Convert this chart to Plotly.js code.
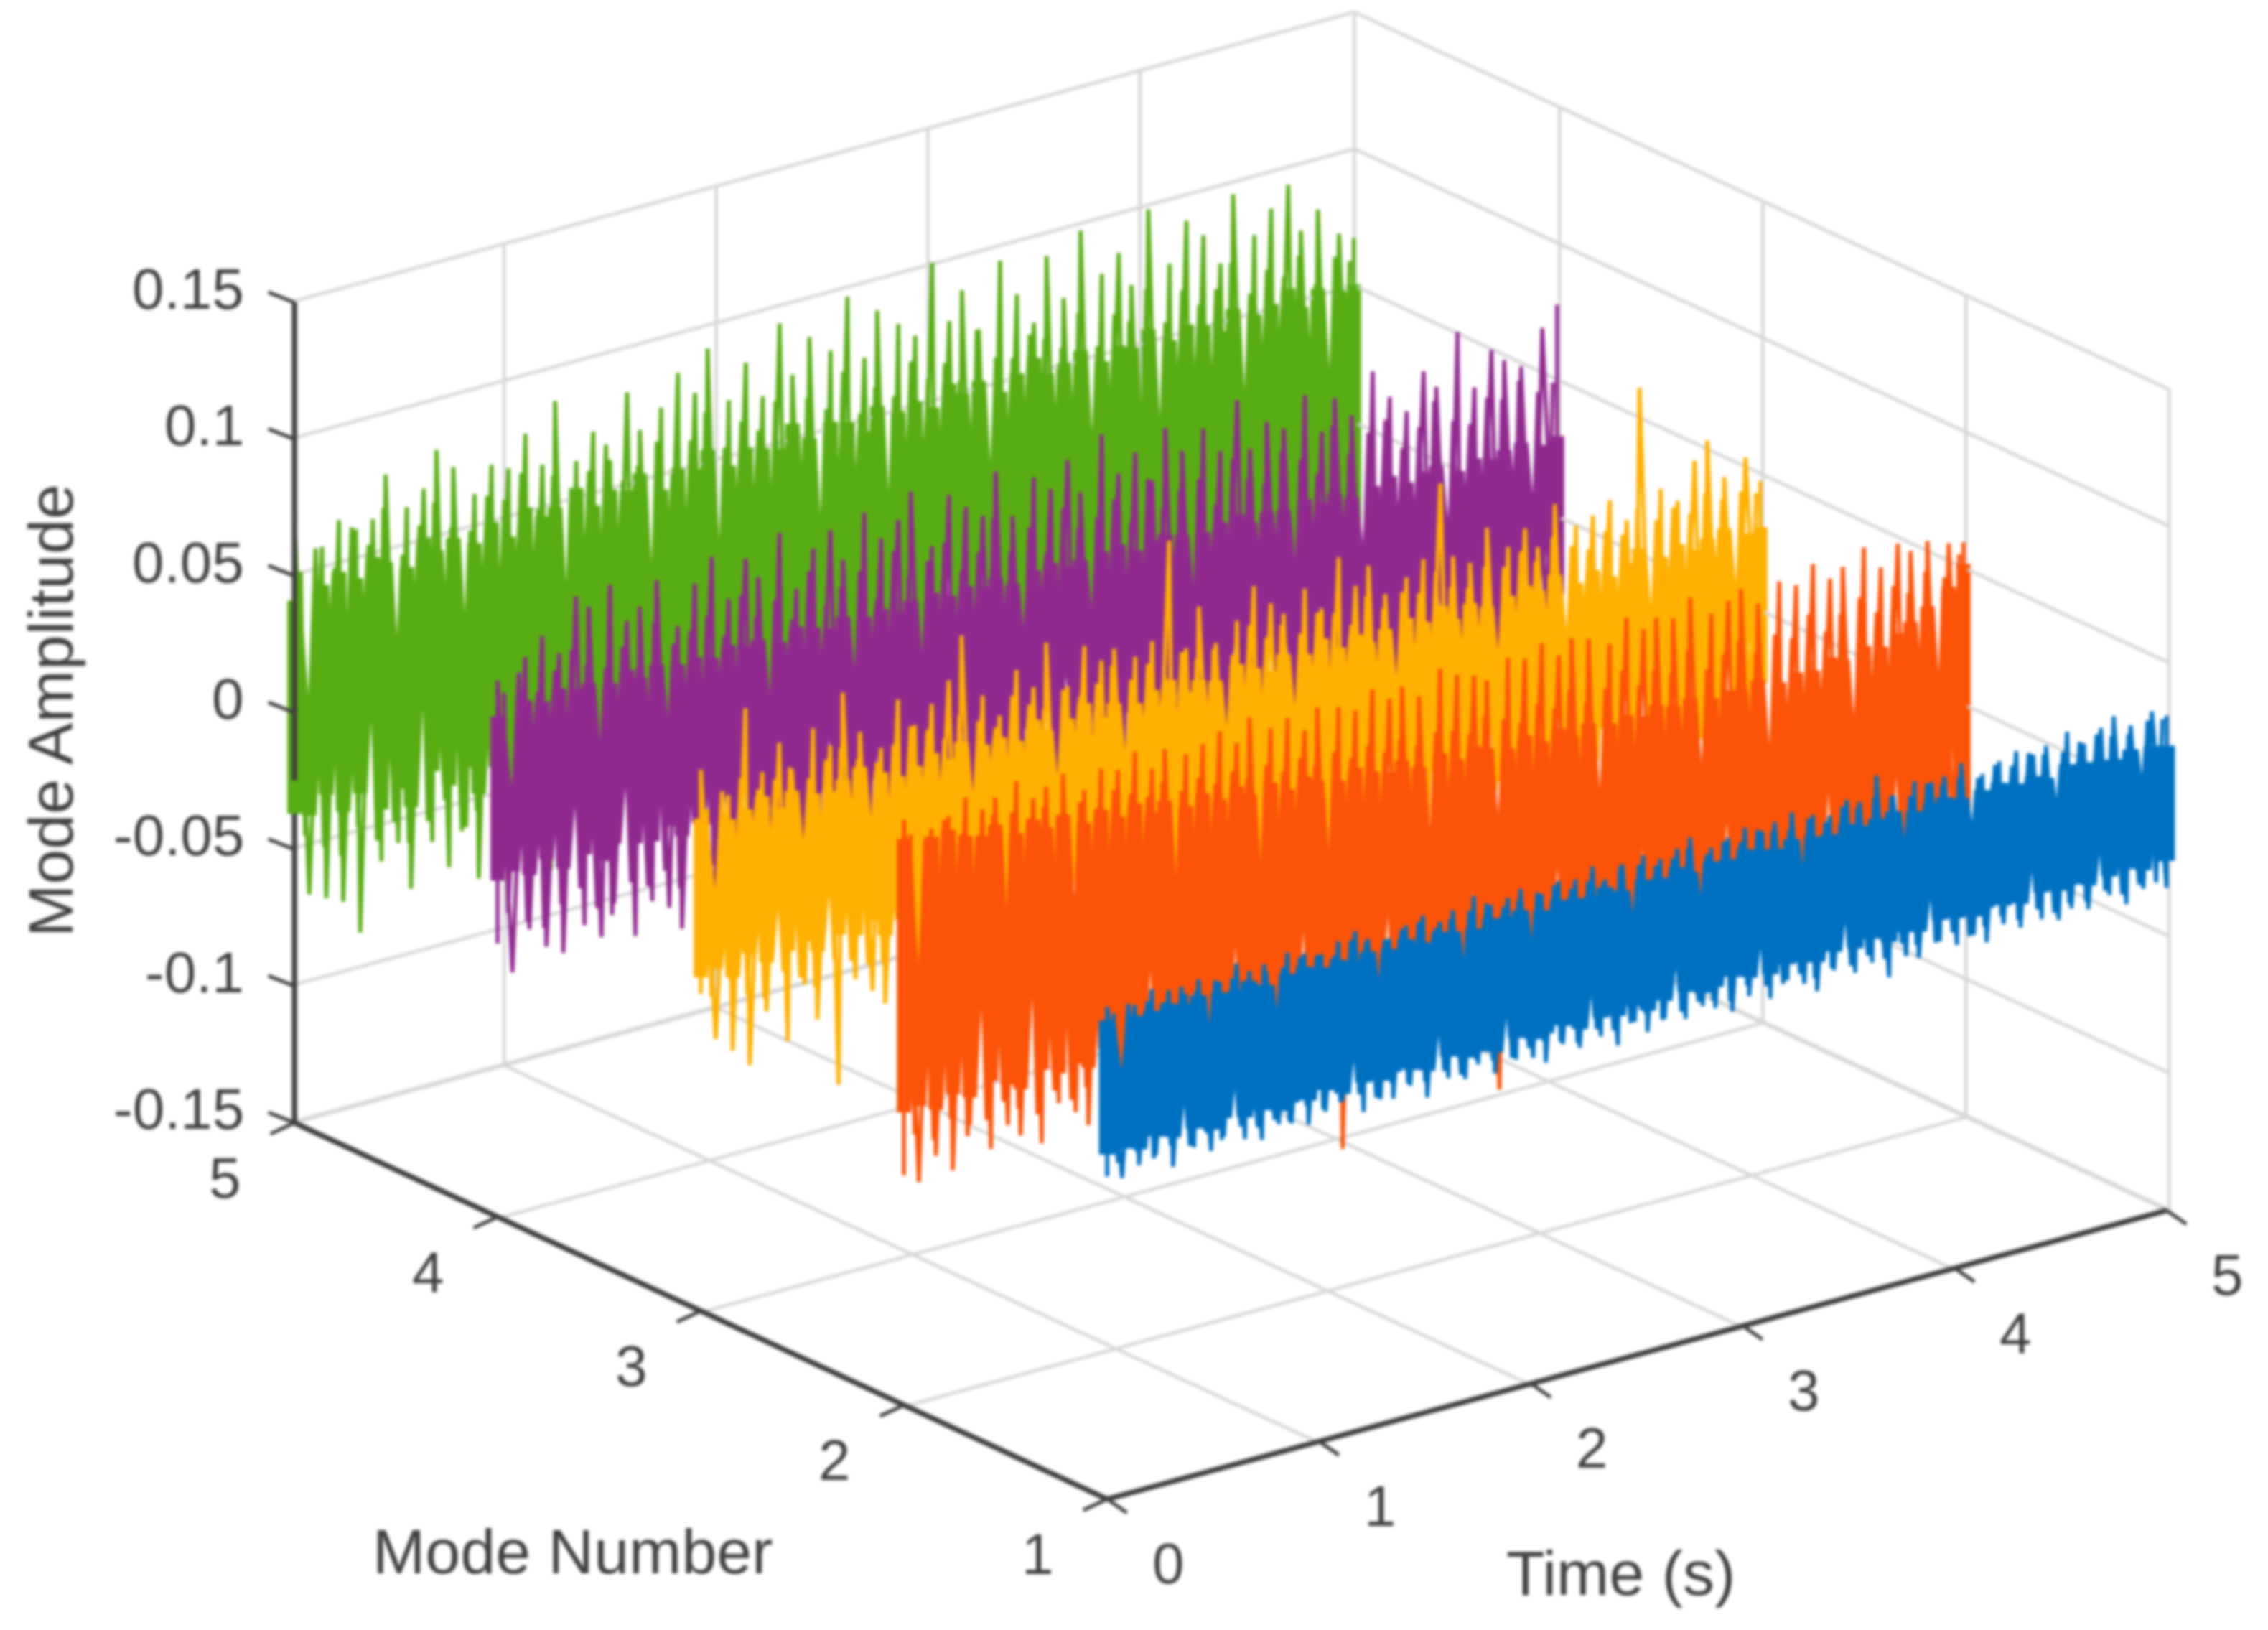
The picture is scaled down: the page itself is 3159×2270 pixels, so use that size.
<!DOCTYPE html>
<html><head><meta charset="utf-8">
<script src="https://cdn.plot.ly/plotly-3.0.1.min.js"></script>
<style>html,body{margin:0;padding:0;background:#fff}#c{width:3159px;height:2270px;filter:blur(2px)}</style>
</head><body><div id="c"></div>
<script>
const time=[0,0,.07,.13,.15,.21,.23,.29,.31,.37,.41,.43,.49,.53,.55,.61,.65,.67,.73,.75,.81,.85,.87,.93,.95,
1.01,1.03,1.09,1.11,1.17,1.21,1.23,1.29,1.33,1.35,1.41,1.43,1.49,1.51,1.57,1.61,1.63,1.69,1.73,1.75,1.81,1.83,1.89,1.93,1.95,
2.01,2.05,2.07,2.13,2.15,2.21,2.23,2.29,2.33,2.35,2.41,2.43,2.49,2.53,2.55,2.61,2.63,2.69,2.73,2.75,2.81,2.85,2.87,2.93,2.95,
3.01,3.03,3.09,3.13,3.15,3.21,3.23,3.29,3.33,3.35,3.41,3.43,3.49,3.53,3.55,3.61,3.63,3.69,3.71,3.77,3.81,3.83,3.89,3.93,3.95,
4.01,4.03,4.09,4.13,4.15,4.21,4.23,4.29,4.31,4.37,4.41,4.43,4.49,4.53,4.55,4.61,4.63,4.69,4.73,4.75,4.81,4.83,4.89,4.93,5,5];
const timeMid=[.03,.05,.1,.14,.19,.22,.27,.3,.35,.39,.42,.47,.51,.54,.59,.63,.66,.71,.74,.79,.83,.86,.91,.94,.99,
1.02,1.07,1.1,1.15,1.19,1.22,1.27,1.31,1.34,1.39,1.42,1.47,1.5,1.55,1.59,1.62,1.67,1.71,1.74,1.79,1.82,1.87,1.91,1.94,1.99,
2.03,2.06,2.11,2.14,2.19,2.22,2.27,2.31,2.34,2.39,2.42,2.47,2.51,2.54,2.59,2.62,2.67,2.71,2.74,2.79,2.83,2.86,2.91,2.94,2.99,
3.02,3.07,3.11,3.14,3.19,3.22,3.27,3.31,3.34,3.39,3.42,3.47,3.51,3.54,3.59,3.62,3.67,3.7,3.75,3.79,3.82,3.87,3.91,3.94,3.99,
4.02,4.07,4.11,4.14,4.19,4.22,4.27,4.3,4.35,4.39,4.42,4.47,4.51,4.54,4.59,4.62,4.67,4.71,4.74,4.79,4.82,4.87,4.91,4.95,4.98];

const greenSpike=[-.052,.072,-.068,.058,-.071,.066,-.074,.061,-.087,.063,-.063,.078,-.058,.064,-.076,.069,-.061,.082,-.072,.074,-.059,.062,-.079,.071,-.066,
.068,-.072,.079,-.056,.066,-.083,.088,-.067,.064,-.054,.073,-.079,.061,-.063,.084,-.071,.069,-.056,.075,-.062,.086,-.068,.077,-.074,.092,
-.065,.071,-.052,.083,-.077,.069,-.061,.094,-.066,.074,-.058,.086,-.063,.079,-.069,.097,-.055,.073,-.071,.089,-.064,.082,-.059,.076,-.067,
.101,-.062,.078,-.066,.088,-.053,.072,-.07,.095,-.061,.081,-.057,.069,-.068,.092,-.063,.075,-.054,.098,-.066,.08,-.06,.086,-.072,.073,
-.058,.099,-.064,.077,-.052,.091,-.067,.084,-.06,.072,-.069,.096,-.056,.079,-.063,.087,-.058,.094,-.07,.076,-.062,.082,-.055,.071,-.064,.068];
const greenMid=[.051,-.046,.058,-.052,.049,-.057,.062,-.048,.054,-.055,.066,-.05,.047,-.059,.056,-.053,.063,-.047,.052,-.06,.049,-.054,.06,-.051,.057,
-.048,.065,-.056,.05,-.052,.061,-.058,.054,-.046,.059,-.055,.067,-.049,.052,-.061,.056,-.05,.063,-.054,.048,-.057,.06,-.052,.069,-.047,
.054,-.059,.062,-.05,.057,-.053,.066,-.048,.051,-.056,.064,-.052,.058,-.049,.07,-.055,.053,-.05,.061,-.058,.056,-.047,.067,-.053,.059,
-.051,.063,-.056,.055,-.048,.072,-.054,.06,-.05,.058,-.057,.065,-.049,.062,-.053,.057,-.055,.068,-.047,.054,-.052,.064,-.058,.06,-.05,
.07,-.053,.056,-.048,.066,-.056,.059,-.051,.063,-.054,.071,-.049,.058,-.052,.065,-.057,.061,-.05,.067,-.053,.055,-.048,.063,-.051,.06];
const greenCore=[-.037,.041,-.039,.044,-.033,.047,-.041,.043,-.036,.049,-.044,.046,-.038,.042,-.046,.051,-.035,.045,-.042,.048,-.037,.044,-.048,.05,-.04,
.043,-.036,.052,-.045,.047,-.039,.049,-.043,.054,-.037,.046,-.047,.05,-.041,.048,-.035,.053,-.044,.045,-.038,.051,-.046,.049,-.04,.055,
-.043,.047,-.037,.052,-.045,.05,-.039,.048,-.042,.056,-.036,.049,-.044,.053,-.04,.051,-.047,.046,-.038,.054,-.043,.05,-.041,.052,-.036,
.048,-.045,.055,-.039,.05,-.042,.053,-.037,.047,-.046,.052,-.04,.056,-.044,.049,-.038,.051,-.043,.054,-.036,.048,-.041,.052,-.045,.05,
-.039,.055,-.043,.049,-.037,.053,-.046,.051,-.04,.047,-.044,.054,-.038,.05,-.042,.052,-.036,.056,-.045,.048,-.041,.053,-.039,.05,-.043,.051];

const purpleSpike=[-.05,.046,-.062,.052,-.048,.058,-.056,.05,-.06,.069,-.052,.064,-.058,.07,-.047,.055,-.061,.059,-.05,.067,-.054,.048,-.063,.062,-.049,
.07,-.057,.053,-.046,.066,-.06,.058,-.051,.072,-.055,.05,-.059,.063,-.048,.068,-.053,.056,-.062,.071,-.047,.06,-.056,.065,-.05,.074,
-.054,.052,-.06,.069,-.049,.063,-.057,.058,-.046,.073,-.052,.055,-.058,.067,-.05,.061,-.055,.07,-.048,.057,-.053,.076,-.051,.06,-.047,
.066,-.056,.054,-.05,.072,-.059,.062,-.048,.068,-.054,.058,-.052,.075,-.046,.056,-.057,.064,-.05,.06,-.053,.07,-.049,.055,-.058,.066,
-.047,.058,-.055,.072,-.05,.061,-.053,.054,-.048,.067,-.056,.06,-.046,.078,-.052,.056,-.05,.068,-.054,.063,-.048,.059,-.051,.071,-.049,.078];
const purpleMid=[.041,-.04,.047,-.045,.038,-.049,.044,-.042,.05,-.038,.043,-.047,.04,-.051,.046,-.041,.037,-.044,.052,-.04,.042,-.048,.045,-.039,.049,
-.043,.04,-.046,.053,-.041,.044,-.038,.048,-.05,.039,-.044,.055,-.042,.041,-.047,.046,-.04,.05,-.045,.038,-.049,.054,-.041,.043,-.046,
.047,-.039,.052,-.044,.04,-.048,.045,-.042,.056,-.04,.042,-.046,.049,-.043,.038,-.05,.053,-.041,.044,-.047,.046,-.039,.051,-.044,.041,
-.048,.055,-.042,.043,-.045,.048,-.04,.05,-.046,.039,-.043,.054,-.041,.045,-.049,.042,-.04,.052,-.044,.047,-.042,.04,-.047,.056,-.041,
.044,-.045,.05,-.039,.053,-.043,.041,-.048,.047,-.04,.055,-.044,.046,-.042,.043,-.046,.051,-.041,.049,-.045,.054,-.04,.048,-.043,.05];
const purpleCore=[-.027,.033,-.025,.036,-.028,.034,-.024,.037,-.029,.035,-.026,.036,-.03,.034,-.025,.037,-.027,.033,-.028,.036,-.024,.034,-.029,.035,-.026,
.033,-.028,.036,-.025,.034,-.03,.035,-.027,.032,-.024,.036,-.029,.034,-.026,.032,-.028,.035,-.025,.033,-.027,.034,-.03,.031,-.024,.034,
-.028,.035,-.026,.032,-.029,.034,-.025,.032,-.027,.034,-.03,.03,-.024,.033,-.028,.034,-.026,.031,-.029,.032,-.025,.033,-.027,.034,-.028,
.03,-.026,.032,-.03,.033,-.024,.031,-.027,.03,-.029,.032,-.025,.033,-.028,.029,-.026,.031,-.027,.03,-.03,.032,-.024,.029,-.029,.031,
-.026,.028,-.028,.03,-.025,.032,-.027,.028,-.029,.03,-.024,.031,-.028,.027,-.026,.03,-.027,.028,-.029,.03,-.025,.031,-.027,.028,-.028,.03];

const yellowSpike=[-.034,.048,-.052,.036,-.058,.066,-.065,.041,-.047,.05,-.06,.039,-.041,.052,-.055,.044,-.081,.062,-.044,.046,-.05,.038,-.056,.054,-.039,
.043,-.048,.049,-.037,.056,-.053,.071,-.042,.047,-.051,.038,-.046,.053,-.057,.045,-.04,.06,-.049,.042,-.035,.055,-.052,.048,-.044,.051,
-.041,.046,-.055,.05,-.038,.085,-.047,.044,-.05,.058,-.036,.043,-.053,.049,-.042,.06,-.045,.052,-.039,.047,-.056,.054,-.04,.045,-.048,
.062,-.043,.05,-.037,.056,-.049,.044,-.052,.048,-.041,.053,-.046,.079,-.038,.051,-.055,.047,-.042,.058,-.036,.049,-.05,.054,-.044,.046,
-.04,.06,-.053,.05,-.045,.052,-.038,.056,-.048,.047,-.042,.094,-.051,.055,-.037,.049,-.046,.062,-.041,.068,-.05,.053,-.044,.058,-.039,.048];
const yellowMid=[.033,-.036,.038,-.032,.041,-.039,.035,-.042,.037,-.034,.04,-.038,.034,-.043,.039,-.035,.042,-.037,.036,-.04,.033,-.041,.038,-.034,.043,
-.036,.04,-.039,.035,-.033,.042,-.037,.038,-.041,.034,-.036,.044,-.035,.039,-.04,.036,-.038,.041,-.034,.037,-.042,.04,-.036,.045,-.033,
.038,-.039,.042,-.035,.036,-.041,.043,-.037,.039,-.034,.041,-.04,.037,-.036,.046,-.038,.04,-.033,.043,-.041,.038,-.035,.044,-.037,.042,
-.039,.036,-.034,.045,-.04,.039,-.036,.043,-.038,.041,-.033,.047,-.037,.04,-.042,.038,-.035,.044,-.039,.042,-.036,.046,-.034,.041,-.038,
.048,-.037,.043,-.035,.04,-.041,.045,-.036,.042,-.039,.05,-.034,.044,-.038,.047,-.036,.043,-.04,.049,-.035,.045,-.037,.046,-.039,.044];
const yellowCore=[-.028,.03,-.026,.027,-.031,.029,-.024,.032,-.029,.026,-.027,.031,-.025,.028,-.03,.027,-.026,.03,-.028,.033,-.024,.029,-.031,.026,-.027,
.028,-.025,.031,-.029,.027,-.03,.032,-.026,.029,-.024,.03,-.028,.027,-.031,.033,-.025,.028,-.027,.03,-.029,.034,-.026,.027,-.03,.031,
-.024,.029,-.028,.032,-.026,.034,-.03,.028,-.025,.031,-.027,.029,-.029,.033,-.024,.03,-.031,.027,-.026,.032,-.028,.03,-.025,.034,-.027,
.029,-.03,.032,-.024,.028,-.028,.031,-.026,.033,-.029,.03,-.025,.034,-.027,.028,-.031,.032,-.026,.029,-.024,.031,-.028,.033,-.03,.03,
-.025,.034,-.027,.029,-.029,.032,-.026,.028,-.03,.031,-.024,.035,-.028,.03,-.026,.033,-.027,.029,-.031,.032,-.025,.034,-.028,.03,-.026,.031];

const orangeSpike=[-.066,.064,-.07,.058,-.062,.061,-.069,.066,-.054,.06,-.065,.063,-.058,.067,-.063,.059,-.068,.062,-.055,.065,-.06,.057,-.066,.063,-.052,
.061,-.064,.066,-.057,.058,-.061,.064,-.053,.06,-.067,.062,-.056,.065,-.06,.059,-.063,.067,-.054,.061,-.058,.063,-.065,.057,-.056,.064,
-.06,.062,-.1,.059,-.057,.065,-.063,.06,-.054,.063,-.066,.058,-.059,.066,-.061,.062,-.056,.06,-.064,.057,-.094,.063,-.058,.061,-.053,
.065,-.062,.059,-.056,.064,-.06,.062,-.065,.058,-.054,.066,-.059,.06,-.063,.063,-.057,.061,-.061,.067,-.055,.059,-.064,.062,-.058,.065,
-.056,.058,-.062,.064,-.053,.061,-.06,.067,-.058,.06,-.064,.063,-.055,.068,-.061,.059,-.057,.066,-.063,.062,-.054,.064,-.06,.061,-.058,.06];
const orangeMid=[.058,-.052,.055,-.056,.06,-.05,.053,-.058,.051,-.054,.057,-.049,.056,-.053,.052,-.057,.055,-.05,.05,-.055,.053,-.052,.049,-.056,.054,
-.051,.051,-.054,.048,-.05,.052,-.057,.047,-.053,.05,-.051,.046,-.055,.049,-.052,.045,-.05,.048,-.054,.044,-.053,.047,-.051,.043,-.056,
.046,-.052,.042,-.05,.045,-.054,.041,-.053,.044,-.051,.04,-.055,.043,-.052,.042,-.05,.039,-.054,.044,-.053,.041,-.051,.038,-.055,.043,
-.052,.04,-.05,.045,-.054,.039,-.053,.042,-.051,.047,-.055,.04,-.052,.044,-.05,.041,-.054,.048,-.053,.039,-.051,.043,-.055,.046,-.052,
.04,-.05,.045,-.054,.042,-.053,.049,-.051,.041,-.055,.046,-.052,.05,-.05,.043,-.054,.051,-.053,.047,-.051,.053,-.055,.049,-.052,.056];
const orangeCore=[-.043,.057,-.042,.055,-.045,.056,-.041,.052,-.044,.05,-.04,.053,-.043,.048,-.046,.051,-.041,.047,-.044,.05,-.042,.045,-.045,.048,-.04,
.044,-.043,.047,-.041,.042,-.044,.045,-.042,.041,-.045,.044,-.04,.04,-.043,.043,-.041,.039,-.044,.041,-.042,.037,-.045,.04,-.04,.037,
-.043,.035,-.041,.038,-.044,.035,-.042,.033,-.045,.036,-.04,.032,-.043,.035,-.041,.031,-.044,.034,-.042,.032,-.045,.03,-.04,.033,-.043,
.029,-.041,.032,-.044,.028,-.042,.031,-.045,.029,-.04,.03,-.043,.028,-.041,.031,-.044,.029,-.042,.03,-.045,.028,-.04,.029,-.043,.028,
-.041,.03,-.044,.027,-.042,.029,-.045,.028,-.04,.031,-.043,.029,-.041,.032,-.044,.03,-.042,.033,-.045,.036,-.04,.04,-.043,.045,-.041,.052];

const blueSpike=[-.032,.03,-.034,.028,-.031,.032,-.029,.03,-.035,.027,-.03,.031,-.033,.028,-.029,.033,-.032,.029,-.034,.027,-.03,.032,-.031,.03,-.033,
.028,-.03,.031,-.028,.033,-.034,.029,-.031,.027,-.032,.03,-.029,.032,-.035,.028,-.03,.031,-.032,.034,-.028,.029,-.033,.03,-.03,.032,
-.031,.028,-.034,.031,-.029,.03,-.032,.033,-.03,.027,-.035,.031,-.028,.032,-.033,.029,-.03,.031,-.032,.034,-.029,.028,-.031,.03,-.034,
.032,-.03,.029,-.033,.031,-.028,.033,-.031,.03,-.035,.028,-.029,.032,-.032,.03,-.03,.038,-.037,.029,-.031,.032,-.033,.03,-.029,.031,
-.032,.034,-.03,.028,-.034,.031,-.029,.033,-.032,.03,-.031,.032,-.033,.035,-.03,.029,-.032,.033,-.029,.036,-.034,.031,-.03,.034,-.032,.031];
const blueMid=[.027,-.028,.029,-.026,.028,-.03,.026,-.027,.03,-.029,.027,-.026,.029,-.03,.028,-.027,.026,-.029,.03,-.028,.027,-.03,.029,-.026,.028,
-.029,.026,-.028,.03,-.027,.028,-.03,.027,-.026,.029,-.028,.03,-.029,.026,-.027,.028,-.03,.029,-.026,.03,-.028,.027,-.029,.028,-.027,
.029,-.026,.03,-.028,.027,-.03,.028,-.027,.026,-.029,.03,-.028,.029,-.026,.027,-.03,.028,-.029,.03,-.027,.026,-.028,.029,-.03,.027,
-.026,.03,-.028,.028,-.029,.027,-.027,.029,-.03,.026,-.028,.03,-.029,.028,-.027,.03,-.03,.029,-.026,.027,-.028,.03,-.029,.028,-.027,
.029,-.03,.027,-.028,.03,-.026,.028,-.029,.031,-.027,.029,-.03,.028,-.028,.03,-.029,.031,-.027,.029,-.03,.028,-.028,.031,-.029,.03];
const blueCore=[-.024,.025,-.023,.024,-.025,.024,-.022,.025,-.024,.023,-.023,.025,-.025,.024,-.022,.023,-.024,.025,-.023,.022,-.025,.024,-.023,.025,-.024,
.023,-.022,.024,-.025,.022,-.023,.024,-.024,.023,-.022,.025,-.023,.022,-.025,.024,-.022,.023,-.024,.022,-.023,.024,-.025,.023,-.022,.024,
-.024,.022,-.023,.024,-.022,.023,-.025,.022,-.023,.024,-.024,.021,-.022,.023,-.025,.022,-.023,.024,-.022,.021,-.024,.023,-.023,.022,-.021,
.024,-.023,.022,-.024,.021,-.022,.023,-.023,.022,-.024,.021,-.022,.023,-.023,.021,-.021,.022,-.024,.023,-.022,.021,-.023,.022,-.021,.023,
-.022,.021,-.023,.022,-.021,.023,-.022,.021,-.023,.022,-.021,.02,-.022,.023,-.021,.022,-.023,.021,-.022,.02,-.021,.022,-.023,.021,-.022,.02];

const modes=[5,4,3,2,1];
const colors=['#58ad14','#912a8f','#ffb000','#fc5308','#0071c1'];
const coreWidths=[40,40,40,40,46];
const spikes=[greenSpike,purpleSpike,yellowSpike,orangeSpike,blueSpike];
const mids=[greenMid,purpleMid,yellowMid,orangeMid,blueMid];
const cores=[greenCore,purpleCore,yellowCore,orangeCore,blueCore];

const timeTicks=[0,1,2,3,4,5], timeLabels=['0','1','2','3','4','5'];
const modeTicks=[1,2,3,4,5], modeLabels=['1','2','3','4','5'];
const ampTicks=[-.15,-.1,-.05,0,.05,.1,.15], ampLabels=['-0.15','-0.1','-0.05','0','0.05','0.1','0.15'];
const tMin=0,tMax=5,mMin=1,mMax=5,aMin=-.15,aMax=.15;

const INK='#404040';
const GRID='#d6d6d6';
const wallT=tMax+.012, wallM=mMax+.01, floorA=aMin-.0005;
const traces=[];
const gx=[],gy=[],gz=[];
const seg=(a,b)=>{gx.push(a[0],b[0],NaN);gy.push(a[1],b[1],NaN);gz.push(a[2],b[2],NaN);};
timeTicks.forEach(t=>{if(t!==tMin){const w=t===tMax?wallT:t;seg([w,mMin,floorA],[w,wallM,floorA]);seg([w,wallM,floorA],[w,wallM,aMax]);}});
modeTicks.forEach(m=>{const w=m===mMax?wallM:m;if(m!==mMin)seg([tMin,w,floorA],[wallT,w,floorA]);seg([wallT,w,floorA],[wallT,w,aMax]);});
ampTicks.forEach(a=>{seg([tMin,wallM,a],[wallT,wallM,a]);seg([wallT,mMin,a],[wallT,wallM,a]);});
traces.push({type:'scatter3d',mode:'lines',x:gx,y:gy,z:gz,connectgaps:false,line:{color:GRID,width:9},hoverinfo:'skip',showlegend:false});
modes.forEach((m,i)=>{
  traces.push({type:'scatter3d',mode:'lines',x:time,y:Array(time.length).fill(m),z:spikes[i],line:{color:colors[i],width:11},hoverinfo:'skip',showlegend:false});
  traces.push({type:'scatter3d',mode:'lines',x:timeMid,y:Array(timeMid.length).fill(m),z:mids[i],line:{color:colors[i],width:11},hoverinfo:'skip',showlegend:false});
  traces.push({type:'scatter3d',mode:'lines',x:time,y:Array(time.length).fill(m),z:cores[i],line:{color:colors[i],width:coreWidths[i]},hoverinfo:'skip',showlegend:false});
});
[[[tMin,tMax],[mMin,mMin],[aMin,aMin]],[[tMin,tMin],[mMin,mMax],[aMin,aMin]],[[tMin,tMin],[mMax,mMax],[aMin,aMax]]].forEach(a=>{
  traces.push({type:'scatter3d',mode:'lines',x:a[0],y:a[1],z:a[2],line:{color:INK,width:15},hoverinfo:'skip',showlegend:false});
});

const font={family:'"Liberation Sans",Arial,sans-serif',size:80,color:INK};
const tick=(x,y,z,ax,ay)=>({x,y,z,text:'',showarrow:true,arrowhead:0,arrowwidth:5,arrowcolor:INK,ax,ay,standoff:0,startstandoff:0});
const lab=(x,y,z,text,xs,ys,anchor)=>({x,y,z,text,showarrow:false,font,xanchor:anchor||'center',yanchor:'middle',xshift:xs,yshift:ys});
const ann=[];
timeTicks.forEach((t,i)=>{ann.push(tick(t,mMin,aMin,29,20));ann.push(lab(t,mMin,aMin,timeLabels[i],85,-90));});
modeTicks.forEach((m,i)=>{ann.push(tick(tMin,m,aMin,-35,16));ann.push(lab(tMin,m,aMin,modeLabels[i],-97,-77));});
ampTicks.forEach((a,i)=>{ann.push(tick(tMin,mMax,a,-38,-15));ann.push(lab(tMin,mMax,a,ampLabels[i],-68,19,'right'));});

const R=1.246;
const pad=0.003;
const ax=(lo,hi,vals)=>({range:[lo-(hi-lo)*pad,hi+(hi-lo)*pad],autorange:false,tickmode:'array',tickvals:vals,showticklabels:false,ticks:'',showline:false,zeroline:false,showspikes:false,showbackground:false,showgrid:false,title:{text:''}});
const layout={width:3159,height:2270,margin:{l:0,r:0,t:0,b:0},paper_bgcolor:'#fff',showlegend:false,
 scene:{domain:{x:[269/3159,1],y:[1-2107/2270,1]},
  aspectmode:'manual',aspectratio:{x:1.776,y:1.776,z:1.167},
  camera:{projection:{type:'orthographic'},center:{x:0,y:0,z:0},up:{x:0,y:0,z:1},eye:{x:-.569*R,y:-.7417*R,z:.3552*R}},
  xaxis:ax(tMin,tMax,timeTicks),yaxis:ax(mMin,mMax,modeTicks),zaxis:ax(aMin,aMax,ampTicks),annotations:ann},
 annotations:[
  {xref:'paper',yref:'paper',x:798/3159,y:1-2160/2270,text:'Mode Number',showarrow:false,font:{family:font.family,size:88,color:INK},xanchor:'center',yanchor:'middle'},
  {xref:'paper',yref:'paper',x:2257/3159,y:1-2190/2270,text:'Time (s)',showarrow:false,font:{family:font.family,size:88,color:INK},xanchor:'center',yanchor:'middle'},
  {xref:'paper',yref:'paper',x:70/3159,y:1-990/2270,text:'Mode Amplitude',textangle:-90,showarrow:false,font:{family:font.family,size:88,color:INK},xanchor:'center',yanchor:'middle'}
 ]};
Plotly.newPlot('c',traces,layout,{displayModeBar:false});
</script></body></html>
